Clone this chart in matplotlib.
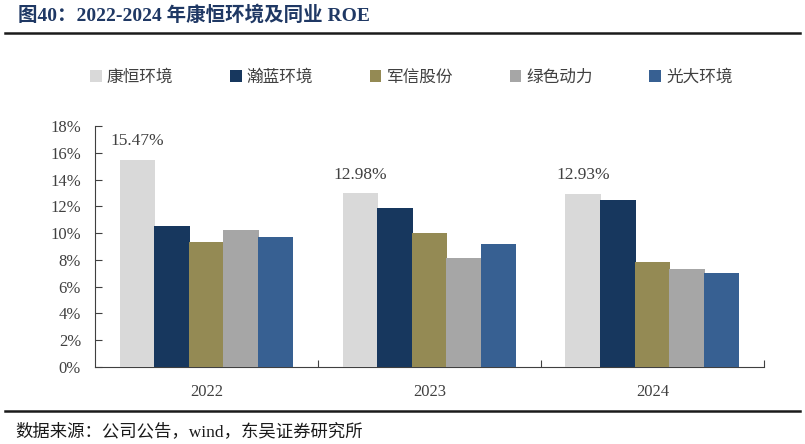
import matplotlib
matplotlib.use('Agg')
import matplotlib.pyplot as plt
from matplotlib.lines import Line2D
import numpy as np

# data (ROE, %)
years = ['2022', '2023', '2024']
companies = ['康恒环境', '瀚蓝环境', '军信股份', '绿色动力', '光大环境']
kanghe = [15.47, 12.98, 12.93]
hanlan = [10.53, 11.85, 12.44]
junxin = [9.34, 9.98, 7.82]
lvse = [10.23, 8.12, 7.33]
guangda = [9.73, 9.21, 7.05]
y_ticks = [0, 2, 4, 6, 8, 10, 12, 14, 16, 18]

series = [kanghe, hanlan, junxin, lvse, guangda]
colors = ['#D9D9D9', '#17375E', '#948A54', '#A6A6A6', '#376092']

# serif first so digits/latin look like the source, CJK glyphs fall back
mixed = ['Liberation Serif', 'Noto Sans CJK SC', 'DejaVu Sans']
serif = ['Liberation Serif', 'DejaVu Serif']

fig = plt.figure(figsize=(8.05, 4.44), dpi=100)
ax = fig.add_axes([0.118, 0.1734, 0.831, 0.5427])

x = np.arange(len(years))
step = 0.155
width = 0.16
for i, (vals, c) in enumerate(zip(series, colors)):
    ax.bar(x + (i - 2) * step, vals, width=width, color=c, label=companies[i], zorder=3)

# value labels on the 康恒环境 bars
for xi, v in zip(x, kanghe):
    ax.text(xi - 2 * step, v + 0.8, f'{v:.2f}%', ha='center', va='bottom',
            fontsize=12.5, family=serif, color='#404040')

ax.set_xlim(-0.5, 2.5)
ax.set_ylim(0, 18)
ax.set_yticks(y_ticks)
ax.set_yticklabels([f'{t}%' for t in y_ticks], family=serif, fontsize=12, color='#404040')
ax.set_xticks([0.5, 1.5, 2.5])
ax.set_xticklabels([])
ax.tick_params(axis='both', direction='in', length=5, width=0.8, color='#404040')
ax.tick_params(axis='y', pad=10)
for xi, yr in zip(x, years):
    ax.text(xi, -1.3, yr, ha='center', va='top', fontsize=12, family=serif, color='#404040')

for s in ['top', 'right']:
    ax.spines[s].set_visible(False)
for s in ['left', 'bottom']:
    ax.spines[s].set_color('#404040')
    ax.spines[s].set_linewidth(0.8)

leg = fig.legend(loc='center', bbox_to_anchor=(0.511, 0.824), ncol=5, frameon=False,
                 prop={'family': mixed, 'size': 12}, handlelength=0.7, handleheight=0.7,
                 handletextpad=0.3, columnspacing=3.4)
for t in leg.get_texts():
    t.set_color('#404040')

# title and footer
fig.text(0.022, 0.966, '图40：2022-2024 年康恒环境及同业 ROE', fontsize=14, weight='bold',
         family=mixed, color='#1F3864', va='center', ha='left')
fig.add_artist(Line2D([0.006, 0.994], [0.925, 0.925], color='#1a1a1a', lw=1.8))
fig.add_artist(Line2D([0.006, 0.994], [0.0743, 0.0743], color='#1a1a1a', lw=1.8))
fig.text(0.019, 0.027, '数据来源：公司公告，wind，东吴证券研究所', fontsize=12.5,
         family=mixed, color='#1a1a1a', va='center', ha='left')

fig.savefig('out.png', dpi=100)
